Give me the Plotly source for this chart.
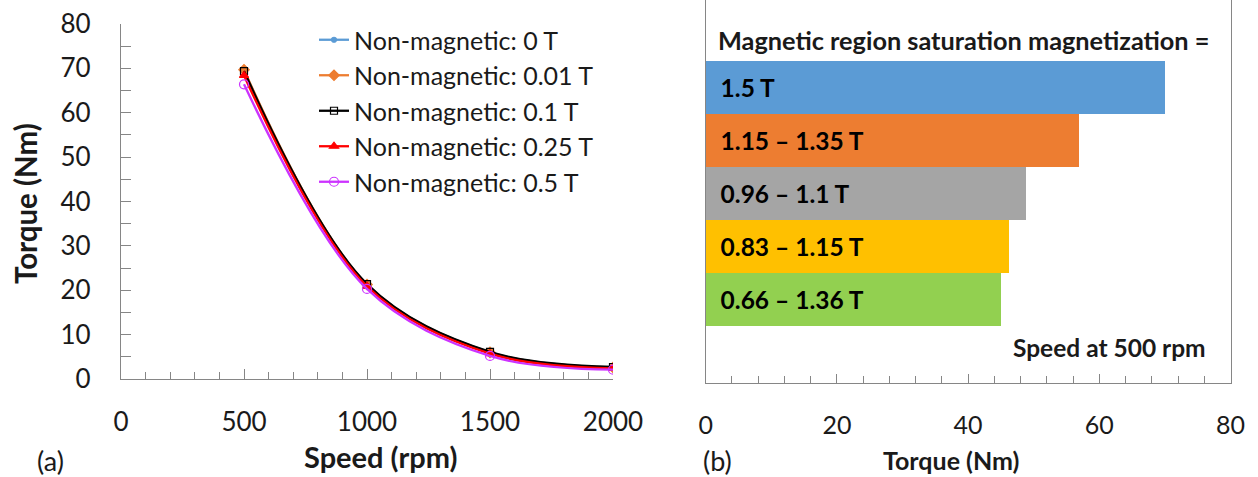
import plotly.graph_objects as go

# ---------------- data ----------------
speed = [500, 1000, 1500, 2000]
series_names = ["Non-magnetic: 0 T", "Non-magnetic: 0.01 T", "Non-magnetic: 0.1 T",
                "Non-magnetic: 0.25 T", "Non-magnetic: 0.5 T"]
torque_0T = [69.5, 21.3, 6.0, 2.6]
torque_001T = [69.7, 21.3, 6.0, 2.6]
torque_01T = [69.4, 21.4, 6.1, 2.7]
torque_025T = [68.4, 20.9, 5.7, 2.4]
torque_05T = [66.4, 20.3, 5.2, 2.1]

bar_labels = ["1.5 T", "1.15 \u2013 1.35 T", "0.96 \u2013 1.1 T", "0.83 \u2013 1.15 T", "0.66 \u2013 1.36 T"]
bar_torque = [69.9, 56.8, 48.8, 46.2, 44.9]

# ---------------- styles ----------------
FONT = "Lato"
AX = "#868686"
TXT = "#1a1a1a"
W, H = 1258, 477

line_styles = [
    dict(color="#5B9BD5", symbol="circle", size=5),
    dict(color="#ED7D31", symbol="diamond", size=8),
    dict(color="#000000", symbol="square-open", size=7),
    dict(color="#FF0000", symbol="triangle-up", size=8),
    dict(color="#CC33FF", symbol="circle-open", size=9),
]
bar_colors = ["#5B9BD5", "#ED7D31", "#A5A5A5", "#FFC000", "#92D050"]

fig = go.Figure()
all_series = [torque_0T, torque_001T, torque_01T, torque_025T, torque_05T]
for name, ys, st in zip(series_names, all_series, line_styles):
    fig.add_trace(go.Scatter(
        x=speed, y=ys, name=name, mode="lines+markers",
        line=dict(color=st["color"], width=2.3, shape="spline", smoothing=1.0),
        marker=dict(symbol=st["symbol"], size=st["size"], color=st["color"],
                    line=dict(color=st["color"], width=1.2)),
        xaxis="x", yaxis="y",
    ))

fig.add_trace(go.Bar(
    x=bar_torque, y=bar_labels, orientation="h",
    marker=dict(color=bar_colors, line=dict(width=0)),
    text=["\u00a0\u00a0" + t for t in bar_labels], textposition="inside",
    insidetextanchor="start", textangle=0,
    textfont=dict(family=FONT, size=24.5, color="#000000", weight="bold"),
    showlegend=False, xaxis="x2", yaxis="y2", width=1.0,
))

def px_x(p):
    return p / W

def px_y(p):
    return 1 - p / H

fig.update_layout(
    width=W, height=H, margin=dict(l=0, r=0, t=0, b=0, autoexpand=False),
    paper_bgcolor="white", plot_bgcolor="white",
    font=dict(family=FONT, color=TXT),
    bargap=0,
    xaxis=dict(domain=[px_x(121), px_x(613)], range=[0, 2000], dtick=500, automargin=False,
               showline=True, linecolor=AX, linewidth=1.3, showgrid=False, zeroline=False,
               ticks="inside", ticklen=10, tickcolor=AX, tickwidth=1.3,
               minor=dict(dtick=100, ticks="inside", ticklen=7, tickcolor=AX, tickwidth=1.3),
               tickfont=dict(size=26, color=TXT, family=FONT), ticklabelstandoff=20),
    yaxis=dict(domain=[px_y(379), px_y(24)], range=[0, 80], dtick=10, automargin=False,
               showline=True, linecolor=AX, linewidth=1.3, showgrid=False, zeroline=False,
               ticks="inside", ticklen=10, tickcolor=AX, tickwidth=1.3,
               minor=dict(dtick=5, ticks="inside", ticklen=10, tickcolor=AX, tickwidth=1.3),
               tickfont=dict(size=26, color=TXT, family=FONT), ticklabelstandoff=24),
    xaxis2=dict(domain=[px_x(705.7), px_x(1230.5)], range=[0, 80], dtick=20, anchor="y2",
                automargin=False,
                showline=True, linecolor=AX, linewidth=1.3, showgrid=False, zeroline=False,
                ticks="inside", ticklen=9, tickcolor=AX, tickwidth=1.3,
                minor=dict(dtick=4, ticks="inside", ticklen=7, tickcolor=AX, tickwidth=1.3),
                tickfont=dict(size=25, color=TXT, family=FONT), ticklabelstandoff=20),
    yaxis2=dict(domain=[px_y(383), 1.0], range=[5.575, -1.655], anchor="x2", automargin=False,
                type="category", categoryorder="array", categoryarray=bar_labels,
                showline=True, mirror=True, linecolor=AX, linewidth=1.3,
                showgrid=False, zeroline=False, ticks="", showticklabels=False),
    legend=dict(x=px_x(314), y=px_y(17), xanchor="left", yanchor="top",
                bgcolor="rgba(0,0,0,0)", font=dict(size=25, color=TXT, family=FONT),
                tracegroupgap=0),
)

ann = [
    dict(text="Torque (Nm)", x=px_x(25), y=px_y(204), textangle=-90,
         font=dict(size=29.5, family=FONT, weight="bold", color=TXT)),
    dict(text="Speed (rpm)", x=px_x(381), y=px_y(456),
         font=dict(size=29, family=FONT, weight="bold", color=TXT)),
    dict(text="(a)", x=px_x(50), y=px_y(460), font=dict(size=27, family=FONT, color=TXT)),
    dict(text="(b)", x=px_x(717), y=px_y(460), font=dict(size=27, family=FONT, color=TXT)),
    dict(text="Torque (Nm)", x=px_x(951), y=px_y(460),
         font=dict(size=25, family=FONT, weight="bold", color=TXT)),
    dict(text="Magnetic region saturation magnetization =", x=px_x(716), y=px_y(40),
         xanchor="left", font=dict(size=25.3, family=FONT, weight="bold", color=TXT)),
    dict(text="Speed at 500 rpm", x=px_x(1208), y=px_y(347), xanchor="right",
         font=dict(size=24.5, family=FONT, weight="bold", color=TXT)),
]
for a in ann:
    a.setdefault("xanchor", "center")
    a.update(xref="paper", yref="paper", yanchor="middle", showarrow=False)
fig.update_layout(annotations=ann)

fig.write_html("out.html")
